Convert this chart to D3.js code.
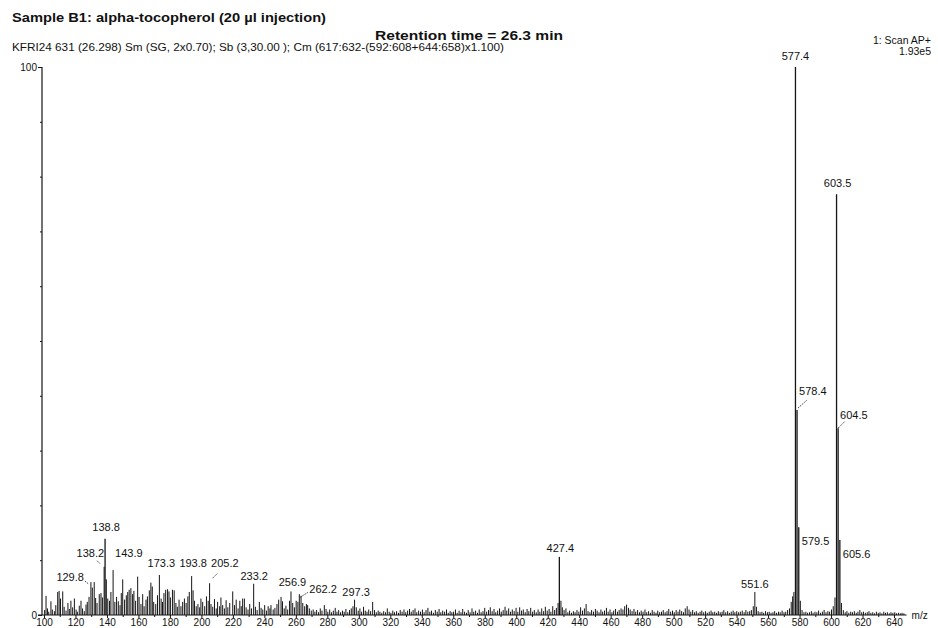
<!DOCTYPE html>
<html>
<head>
<meta charset="utf-8">
<script src="https://cdn.jsdelivr.net/npm/d3@7"></script>
<style>
  body { margin: 0; background: #fff; }
  svg text { font-family: Arial, "Liberation Sans", sans-serif; fill: #111; }
</style>
</head>
<body>
<svg id="chart" width="938" height="628"></svg>
<script>
// ---------------------------------------------------------------
// Daten (abgelesen aus dem Spektrum, Intensitaet in % vom Basispeak)
// ---------------------------------------------------------------

const titleText = 'Sample B1: alpha-tocopherol (20 µl injection)';
const subTitleText = 'Retention time = 26.3 min';
const scanInfoText = 'KFRI24  631 (26.298) Sm (SG, 2x0.70); Sb (3,30.00 ); Cm (617:632-(592:608+644:658)x1.100)';
const scanModeText = '1: Scan AP+';
const scanMaxText = '1.93e5';

// beschriftete Peaks [m/z, %]
const labelledPeaks = [
  [129.8, 6.0], [138.2, 8.8], [138.8, 13.9], [143.9, 8.2], [173.3, 7.3],
  [193.8, 7.1], [205.2, 5.8], [233.2, 5.7], [256.9, 4.3], [262.2, 3.8],
  [297.3, 2.8], [427.4, 10.6], [551.6, 4.2], [577.4, 100], [578.4, 37.4],
  [579.5, 16.0], [603.5, 76.8], [604.5, 34.1], [605.6, 13.7]
];

// unbeschriftete Peaks 100 - 215
const lowMassPeaks = [
  [100.4, 0.9], [101.3, 3.5], [102.2, 1.2], [103.0, 0.6], [104.4, 2.5], [105.3, 1.0],
  [106.6, 0.7], [107.5, 1.8], [108.7, 4.2], [109.6, 4.4], [110.5, 3.0], [111.9, 4.3],
  [112.8, 1.5], [114.0, 0.8], [115.2, 2.2], [116.1, 1.1], [117.1, 2.6], [118.2, 1.4],
  [119.3, 3.0], [120.4, 1.0], [121.2, 0.6], [122.4, 1.7], [123.5, 2.6], [124.5, 1.2],
  [125.6, 0.7], [126.7, 1.9], [127.5, 2.4], [128.6, 3.3], [130.7, 5.0], [131.9, 6.0],
  [132.8, 3.1], [133.7, 2.2], [135.1, 3.8], [136.2, 4.0], [137.1, 3.2], [139.6, 6.5],
  [140.5, 3.0], [141.6, 2.6], [142.5, 4.2], [145.0, 2.4], [146.1, 3.3], [147.2, 2.5],
  [148.3, 1.8], [149.1, 4.0], [150.0, 6.5], [151.2, 2.8], [152.3, 3.6], [153.2, 4.2],
  [154.1, 4.6], [155.2, 4.9], [156.3, 3.8], [157.1, 4.4], [158.2, 2.6], [159.5, 7.0],
  [160.4, 3.3], [161.6, 2.0], [162.7, 3.8], [163.6, 1.6], [164.8, 2.8], [165.7, 3.4],
  [166.9, 4.5], [167.9, 5.9], [168.8, 5.2], [169.7, 2.4], [171.0, 2.0], [172.1, 3.6],
  [174.4, 3.0], [175.3, 2.4], [176.2, 4.0], [177.3, 4.6], [178.5, 4.7], [179.4, 4.3],
  [180.3, 3.2], [181.6, 4.6], [182.7, 4.5], [183.8, 2.2], [184.7, 1.5], [185.8, 2.8],
  [187.0, 1.6], [188.1, 2.4], [189.2, 3.0], [190.3, 2.2], [191.4, 3.4], [192.3, 4.2],
  [194.7, 4.5], [195.6, 2.6], [196.7, 1.6], [197.8, 2.0], [198.9, 1.4], [199.7, 3.0],
  [200.8, 2.4], [202.1, 1.6], [203.2, 3.4], [204.3, 2.6], [206.1, 2.0], [207.2, 1.5],
  [208.3, 2.9], [209.4, 1.2], [210.3, 2.4], [211.6, 1.6], [212.4, 3.2], [213.5, 1.8],
  [214.6, 1.2]
];

// unbeschriftete Peaks 215 - 360
const midMassPeaks = [
  [215.7, 2.7], [216.8, 1.4], [218.0, 2.2], [219.9, 4.3], [221.0, 1.8], [222.1, 2.8],
  [223.3, 1.2], [224.4, 2.6], [225.3, 1.6], [226.2, 3.0], [227.3, 3.0], [228.4, 1.4],
  [229.6, 1.0], [230.7, 2.0], [231.8, 1.2], [234.3, 1.5], [235.4, 0.9], [236.8, 2.4],
  [237.9, 1.3], [239.0, 1.0], [240.2, 1.8], [241.3, 0.8], [242.4, 1.6], [243.5, 1.2],
  [244.2, 1.8], [245.6, 1.0], [246.7, 1.3], [248.0, 2.0], [249.1, 2.8], [250.6, 3.3],
  [251.5, 2.5], [252.6, 1.2], [253.7, 1.7], [254.8, 1.0], [256.0, 2.6], [258.0, 2.2],
  [259.1, 1.4], [260.2, 2.6], [261.3, 2.4], [263.3, 3.5], [264.4, 2.2], [265.6, 1.6],
  [266.7, 2.0], [267.5, 1.8], [268.6, 1.2], [269.8, 0.8], [271.0, 1.0], [272.1, 0.6],
  [273.2, 0.9], [274.4, 0.5], [275.5, 1.2], [276.6, 0.8], [278.1, 1.8], [279.2, 1.1],
  [280.3, 0.6], [281.5, 1.0], [282.6, 0.5], [283.8, 0.8], [285.0, 1.3], [286.1, 0.6],
  [287.2, 0.9], [288.4, 0.5], [289.6, 0.8], [290.7, 0.6], [291.8, 1.1], [293.0, 0.5],
  [294.1, 0.9], [295.2, 1.2], [296.3, 1.6], [298.4, 1.4], [299.6, 0.8], [300.7, 1.2],
  [301.8, 0.6], [303.0, 1.5], [304.1, 0.8], [305.2, 0.6], [306.3, 1.0], [307.5, 0.7],
  [308.8, 2.4], [310.0, 0.9], [311.1, 0.5], [312.3, 0.8], [313.4, 0.6], [314.6, 0.4],
  [315.8, 0.7], [317.0, 0.5], [318.1, 1.2], [319.3, 0.6], [320.4, 0.4], [321.6, 0.8],
  [322.7, 0.5], [324.0, 0.7], [325.2, 0.4], [326.3, 0.9], [327.5, 0.6], [328.7, 1.0],
  [329.8, 0.5], [331.0, 0.8], [332.2, 1.1], [333.3, 0.6], [334.5, 0.9], [335.7, 1.2],
  [336.8, 0.5], [338.0, 0.8], [339.2, 0.6], [340.4, 1.0], [341.5, 0.5], [342.7, 0.9],
  [343.9, 1.3], [345.1, 0.6], [346.2, 0.8], [347.4, 0.4], [348.6, 0.9], [349.8, 0.6],
  [351.0, 1.1], [352.1, 0.5], [353.3, 0.8], [354.5, 0.6], [355.7, 1.0], [356.8, 0.4],
  [358.0, 0.7], [359.1, 0.5]
];

// unbeschriftete Peaks 360 - 648
const highMassPeaks = [
  [360.2, 0.6], [361.4, 1.0], [362.5, 0.4], [363.7, 0.8], [364.9, 0.5], [366.0, 1.1],
  [367.2, 0.6], [368.4, 0.4], [369.5, 0.9], [370.7, 0.5], [371.9, 1.2], [373.0, 0.6],
  [374.2, 0.8], [375.4, 0.4], [376.5, 1.0], [377.7, 0.5], [378.9, 0.7], [380.0, 1.3],
  [381.2, 0.6], [382.4, 0.9], [383.5, 1.4], [384.7, 0.7], [385.9, 1.1], [387.0, 0.5],
  [388.2, 0.8], [389.4, 1.2], [390.5, 0.6], [391.7, 0.9], [392.9, 1.5], [394.0, 0.8],
  [395.2, 1.2], [396.4, 0.6], [397.5, 1.0], [398.7, 0.7], [399.9, 1.3], [401.0, 0.6],
  [402.2, 1.4], [403.4, 0.8], [404.5, 1.0], [405.7, 0.5], [406.9, 1.1], [408.0, 0.7],
  [409.2, 1.3], [410.4, 0.6], [411.5, 0.9], [412.7, 0.5], [413.9, 1.0], [415.0, 0.6],
  [416.2, 1.2], [417.4, 0.7], [418.5, 1.5], [419.7, 0.8], [420.9, 1.1], [422.0, 0.6],
  [423.2, 1.6], [424.4, 0.9], [425.5, 1.3], [426.6, 2.2], [428.4, 2.6], [429.3, 1.4],
  [430.4, 0.9], [431.6, 1.2], [432.8, 0.5], [433.9, 0.8], [435.1, 0.4], [436.3, 0.7],
  [437.4, 0.5], [438.6, 0.9], [439.8, 0.6], [440.9, 1.4], [442.1, 0.8], [443.3, 1.2],
  [444.4, 2.0], [445.6, 0.7], [446.8, 0.5], [447.9, 0.9], [449.1, 0.6], [450.3, 1.1],
  [451.4, 0.8], [452.6, 0.5], [453.8, 1.0], [454.9, 0.6], [456.1, 0.8], [457.3, 1.3],
  [458.4, 0.6], [459.6, 1.0], [460.8, 0.5], [461.9, 0.8], [463.1, 1.1], [464.3, 0.6],
  [465.4, 0.9], [466.6, 1.2], [467.8, 1.0], [468.9, 1.6], [470.1, 1.9], [471.3, 1.3],
  [472.4, 1.0], [473.6, 0.7], [474.8, 1.1], [475.9, 0.6], [477.1, 0.9], [478.3, 0.5],
  [479.4, 0.8], [480.6, 0.6], [481.8, 1.0], [482.9, 0.5], [484.1, 0.7], [485.3, 0.4],
  [486.4, 0.9], [487.6, 0.6], [488.8, 0.4], [489.9, 0.8], [491.1, 0.5], [492.3, 0.6],
  [493.4, 0.9], [494.6, 0.5], [495.8, 0.7], [496.9, 1.1], [498.1, 0.6], [499.3, 0.8],
  [500.4, 0.5], [501.6, 0.9], [502.8, 0.6], [503.9, 1.0], [505.1, 0.7], [506.3, 0.5],
  [507.4, 1.2], [508.6, 1.6], [509.8, 1.0], [510.9, 0.6], [512.1, 0.9], [513.3, 0.5],
  [514.4, 0.7], [515.6, 0.4], [516.8, 0.6], [517.9, 0.8], [519.1, 0.5], [520.3, 0.7],
  [521.4, 0.4], [522.6, 0.6], [523.8, 0.8], [524.9, 0.5], [526.1, 0.6], [527.3, 0.4],
  [528.4, 0.7], [529.6, 0.5], [530.8, 0.6], [531.9, 0.9], [533.1, 0.5], [534.3, 0.7],
  [535.4, 0.4], [536.6, 0.6], [537.8, 0.8], [538.9, 0.5], [540.1, 0.7], [541.3, 0.5],
  [542.4, 0.6], [543.6, 0.8], [544.8, 0.5], [545.9, 0.9], [547.1, 0.6], [548.3, 0.7],
  [549.4, 0.9], [550.6, 1.6], [552.6, 1.5], [553.7, 0.7], [554.9, 0.5], [556.1, 0.6],
  [557.2, 0.4], [558.4, 0.7], [559.6, 0.5], [560.7, 0.6], [561.9, 0.4], [563.1, 0.5],
  [564.2, 0.7], [565.4, 0.4], [566.6, 0.6], [567.7, 0.5], [568.9, 0.8], [570.1, 0.5],
  [571.2, 0.6], [572.4, 0.9], [573.6, 1.2], [574.7, 2.4], [575.6, 3.4], [576.4, 4.2],
  [580.5, 2.6], [581.6, 0.9], [582.8, 0.5], [584.0, 0.6], [585.1, 0.4], [586.3, 0.5],
  [587.5, 0.7], [588.6, 0.4], [589.8, 0.6], [591.0, 0.5], [592.1, 0.8], [593.3, 0.4],
  [594.5, 0.6], [595.6, 0.9], [596.8, 0.5], [598.0, 0.7], [599.1, 0.6], [600.3, 1.0],
  [601.4, 1.6], [602.5, 3.2], [606.6, 2.2], [607.8, 0.9], [609.0, 0.5], [610.1, 0.7],
  [611.3, 0.4], [612.5, 0.6], [613.6, 0.5], [614.8, 0.7], [616.0, 0.4], [617.1, 0.6],
  [618.3, 0.9], [619.5, 0.5], [620.6, 0.6], [621.8, 0.4], [623.0, 0.5], [624.1, 0.7],
  [625.3, 0.4], [626.5, 0.5], [627.6, 0.3], [628.8, 0.6], [630.0, 0.4], [631.1, 0.5],
  [632.3, 0.3], [633.5, 0.6], [634.6, 0.4], [635.8, 0.5], [637.0, 0.3], [638.1, 0.5],
  [639.3, 0.4], [640.5, 0.5], [641.6, 0.3], [642.8, 0.4], [644.0, 0.3], [645.1, 0.4],
  [646.3, 0.3]
];

const xTicks = [100, 120, 140, 160, 180, 200, 220, 240, 260, 280, 300, 320, 340, 360,
  380, 400, 420, 440, 460, 480, 500, 520, 540, 560, 580, 600, 620, 640];
const xMinorTicks = [110, 130, 150, 170, 190, 210, 230, 250, 270, 290, 310, 330, 350, 370,
  390, 410, 430, 450, 470, 490, 510, 530, 550, 570, 590, 610, 630];
const yTicks = [0, 100];
const yMinorTicks = [10, 20, 30, 40, 50, 60, 70, 80, 90];

// Lage der Peak-Beschriftungen relativ zur Peakspitze
const labelLayout = {
  '129.8': { anchor: 'end', dx: -7, dy: -1, lead: [-6, -1, -2, 2] },
  '138.2': { anchor: 'end', dx: 0, dy: -10, lead: [-7, -6, -4, -3] },
  '138.8': { anchor: 'middle', dx: 1, dy: -8 },
  '143.9': { anchor: 'start', dx: 2, dy: -13 },
  '173.3': { anchor: 'middle', dx: 2, dy: -8 },
  '193.8': { anchor: 'middle', dx: 1.5, dy: -9 },
  '205.2': { anchor: 'start', dx: 1.5, dy: -16, lead: [3, -5, 8, -10] },
  '233.2': { anchor: 'middle', dx: 0.5, dy: -4 },
  '256.9': { anchor: 'middle', dx: 1.5, dy: -5 },
  '262.2': { anchor: 'start', dx: 10, dy: -1, lead: [1, 3, 9, -2] },
  '297.3': { anchor: 'middle', dx: 1.5, dy: -4 },
  '427.4': { anchor: 'middle', dx: 1, dy: -5 },
  '551.6': { anchor: 'middle', dx: 0, dy: -4 },
  '577.4': { anchor: 'middle', dx: 0, dy: -7 },
  '578.4': { anchor: 'start', dx: 2, dy: -15, lead: [1, -2, 10, -10] },
  '579.5': { anchor: 'start', dx: 3, dy: 18 },
  '603.5': { anchor: 'middle', dx: 1, dy: -7 },
  '604.5': { anchor: 'start', dx: 2, dy: -9, lead: [0, 0, 7, -7] },
  '605.6': { anchor: 'start', dx: 3, dy: 18 }
};

// ---------------------------------------------------------------
// Zeichnen
// ---------------------------------------------------------------
const svg = d3.select('#chart');
const ink = '#151515';

const x = d3.scaleLinear().domain([100, 640]).range([44, 894]);
const y = d3.scaleLinear().domain([0, 100]).range([615, 67]);

// Kopfzeilen (breite Druckerschrift -> textLength)
svg.append('text').attr('x', 12).attr('y', 22)
  .attr('font-size', 13).attr('font-weight', 'bold')
  .attr('textLength', 314).attr('lengthAdjust', 'spacingAndGlyphs').text(titleText);
svg.append('text').attr('x', 375).attr('y', 40)
  .attr('font-size', 13.5).attr('font-weight', 'bold')
  .attr('textLength', 188).attr('lengthAdjust', 'spacingAndGlyphs').text(subTitleText);
svg.append('text').attr('x', 12).attr('y', 51)
  .attr('font-size', 10.5)
  .attr('textLength', 492).attr('lengthAdjust', 'spacingAndGlyphs').text(scanInfoText);
svg.append('text').attr('x', 931).attr('y', 44).attr('text-anchor', 'end')
  .attr('font-size', 10.5).text(scanModeText);
svg.append('text').attr('x', 931).attr('y', 55).attr('text-anchor', 'end')
  .attr('font-size', 10.5).text(scanMaxText);

// x-Achse
const xAxis = svg.append('g').attr('transform', `translate(0,${y(0)})`)
  .call(d3.axisBottom(x).tickValues(xTicks).tickSize(3).tickSizeOuter(0)
    .tickPadding(1).tickFormat(d3.format('d')));
xAxis.select('.domain').remove();
xAxis.selectAll('line').attr('stroke', ink);
xAxis.selectAll('text').attr('font-size', 10).attr('fill', ink)
  .attr('font-family', 'Arial, "Liberation Sans", sans-serif');

const xMinor = svg.append('g').attr('transform', `translate(0,${y(0)})`)
  .call(d3.axisBottom(x).tickValues(xMinorTicks).tickSize(2).tickFormat(''));
xMinor.select('.domain').remove();
xMinor.selectAll('line').attr('stroke', ink);

svg.append('line')
  .attr('x1', 38).attr('x2', x(648)).attr('y1', y(0)).attr('y2', y(0))
  .attr('stroke', ink).attr('stroke-width', 1);
svg.append('text').attr('x', x(648) + 5).attr('y', y(0) + 4)
  .attr('font-size', 10).text('m/z');

// y-Achse
const yAxis = svg.append('g').attr('transform', `translate(${x(100) - 2},0)`)
  .call(d3.axisLeft(y).tickValues(yTicks).tickSize(4).tickSizeOuter(0).tickPadding(1));
yAxis.select('.domain').remove();
yAxis.selectAll('line').attr('stroke', ink);
yAxis.selectAll('text').attr('font-size', 10).attr('fill', ink)
  .attr('font-family', 'Arial, "Liberation Sans", sans-serif');

const yMinor = svg.append('g').attr('transform', `translate(${x(100) - 2},0)`)
  .call(d3.axisLeft(y).tickValues(yMinorTicks).tickSize(2).tickFormat(''));
yMinor.select('.domain').remove();
yMinor.selectAll('line').attr('stroke', ink);

svg.append('line')
  .attr('x1', x(100) - 2).attr('x2', x(100) - 2).attr('y1', y(100)).attr('y2', y(0))
  .attr('stroke', ink).attr('stroke-width', 1.2);

// Peaks
const allPeaks = lowMassPeaks.concat(midMassPeaks, highMassPeaks, labelledPeaks);

svg.append('g').selectAll('line')
  .data(allPeaks)
  .join('line')
  .attr('x1', (d) => x(d[0]))
  .attr('x2', (d) => x(d[0]))
  .attr('y1', y(0))
  .attr('y2', (d) => y(d[1]))
  .attr('stroke', ink)
  .attr('stroke-width', (d) => (d[1] > 10 ? 1.3 : 1));

// Beschriftungen
const labels = svg.append('g').selectAll('g')
  .data(labelledPeaks)
  .join('g')
  .attr('transform', (d) => `translate(${x(d[0])},${y(d[1])})`);

labels.append('text')
  .attr('font-size', 11)
  .attr('text-anchor', (d) => labelLayout[d[0].toFixed(1)].anchor)
  .attr('x', (d) => labelLayout[d[0].toFixed(1)].dx)
  .attr('y', (d) => labelLayout[d[0].toFixed(1)].dy)
  .text((d) => d[0].toFixed(1));

labels.filter((d) => labelLayout[d[0].toFixed(1)].lead)
  .append('line')
  .attr('x1', (d) => labelLayout[d[0].toFixed(1)].lead[0])
  .attr('y1', (d) => labelLayout[d[0].toFixed(1)].lead[1])
  .attr('x2', (d) => labelLayout[d[0].toFixed(1)].lead[2])
  .attr('y2', (d) => labelLayout[d[0].toFixed(1)].lead[3])
  .attr('stroke', ink)
  .attr('stroke-width', 0.8)
  .attr('stroke-dasharray', '1.5,1');
</script>
</body>
</html>
